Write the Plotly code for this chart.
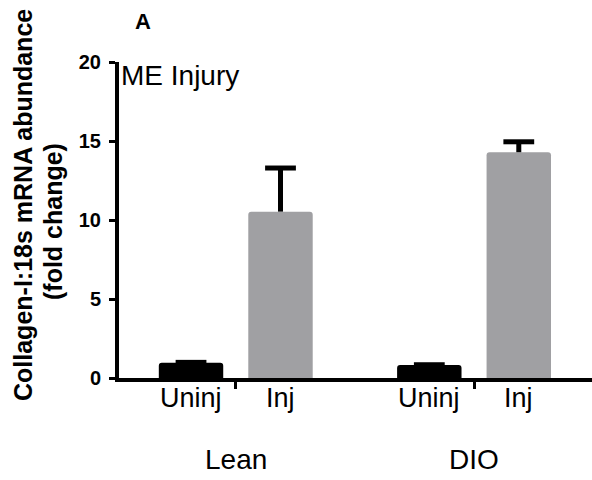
import plotly.graph_objects as go

groups = ["Lean", "DIO"]
conditions = ["Uninj", "Inj"]
uninj_vals = [0.97, 0.82]
uninj_err = [0.02, 0.02]
inj_vals = [10.53, 14.29]
inj_err = [2.76, 0.66]
y_ticks = [0, 5, 10, 15, 20]

FONT = "Arial, Liberation Sans, sans-serif"
BLACK = "#000000"
GRAY = "#a0a0a3"
bargap = 0.249          # gap between groups (fraction of a group slot)
bar_fill = 0.72         # bar width as fraction of its sub-slot
slot = (1 - bargap) / 2
bar_w = slot * bar_fill
group_idx = list(range(len(groups)))

series = [(conditions[0], uninj_vals, uninj_err, BLACK),
          (conditions[1], inj_vals, inj_err, GRAY)]

fig = go.Figure()
for ci, (name, vals, errs, col) in enumerate(series):
    xs = [gi + (ci - 0.5) * slot for gi in group_idx]
    fig.add_trace(go.Bar(
        x=xs, y=vals, name=name, width=bar_w,
        marker=dict(color=col, line=dict(width=0), cornerradius=3),
        error_y=dict(type="data", array=errs, arrayminus=[0] * len(vals), symmetric=False,
                     color=BLACK, thickness=5, width=0),
    ))
for ci, (name, vals, errs, col) in enumerate(series):
    xs = [gi + (ci - 0.5) * slot for gi in group_idx]
    fig.add_trace(go.Scatter(
        x=xs, y=[v + e for v, e in zip(vals, errs)], mode="markers", hoverinfo="skip",
        marker=dict(symbol="line-ew", size=22, color=BLACK,
                    line=dict(width=5, color=BLACK)),
    ))

annotations = []
for gi, g in zip(group_idx, groups):
    for ci, c in enumerate(conditions):
        annotations.append(dict(
            x=gi + (ci - 0.5) * slot, y=0, xref="x", yref="paper", text=c, showarrow=False,
            yanchor="middle", xanchor="center", yshift=-20,
            font=dict(family=FONT, size=27, color="#000")))
    annotations.append(dict(
        x=gi, y=0, xref="x", yref="paper", text=g, showarrow=False,
        yanchor="middle", xanchor="center", yshift=-81,
        font=dict(family=FONT, size=28, color="#000")))

annotations += [
    dict(x=0, y=1, xref="paper", yref="paper", text="ME Injury", showarrow=False,
         xanchor="left", yanchor="middle", xshift=0, yshift=-13,
         font=dict(family=FONT, size=28, color="#000")),
    dict(x=0, y=1, xref="paper", yref="paper", text="<b>A</b>", showarrow=False,
         xanchor="center", yanchor="middle", xshift=24, yshift=41,
         font=dict(family=FONT, size=22, color="#000")),
    dict(x=0, y=0.5, xref="paper", yref="paper",
         text="<b>Collagen-I:18s mRNA abundance</b>", showarrow=False,
         textangle=-90, xanchor="center", yanchor="middle", xshift=-96, yshift=15,
         font=dict(family=FONT, size=25, color="#000")),
    dict(x=0, y=0.5, xref="paper", yref="paper",
         text="<b>(fold change)</b>", showarrow=False,
         textangle=-90, xanchor="center", yanchor="middle", xshift=-66, yshift=-2,
         font=dict(family=FONT, size=25, color="#000")),
]

fig.update_layout(
    width=592, height=480,
    margin=dict(l=119, r=0, t=62, b=102),
    paper_bgcolor="white", plot_bgcolor="white",
    showlegend=False,
    annotations=annotations,
    xaxis=dict(type="linear", range=[-0.49, 1.495], tickvals=group_idx, showticklabels=False,
               showline=True, linecolor="#000", linewidth=4,
               ticks="outside", ticklen=7, tickwidth=3, tickcolor="#000",
               showgrid=False, zeroline=False, fixedrange=True),
    yaxis=dict(range=[0, 20], tickvals=y_ticks, ticktext=[f"<b>{v}</b>" for v in y_ticks],
               showline=True, linecolor="#000", linewidth=4,
               ticks="outside", ticklen=6, tickwidth=3, tickcolor="#000",
               ticklabelstandoff=4,
               tickfont=dict(family=FONT, size=20, color="#000"),
               showgrid=False, zeroline=False, fixedrange=True),
)

fig.write_html("out.html", config={"displayModeBar": False},
               post_script="document.body.style.margin='0px';")
